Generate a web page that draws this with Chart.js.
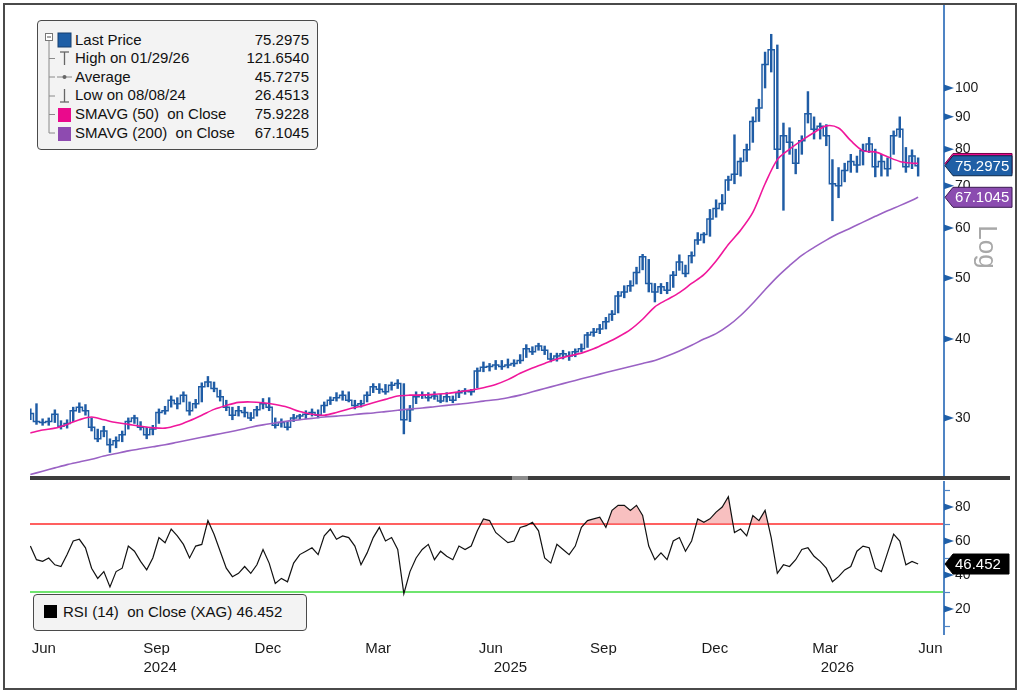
<!DOCTYPE html>
<html>
<head>
<meta charset="utf-8">
<script src="https://cdn.jsdelivr.net/npm/chart.js@4.4.1/dist/chart.umd.min.js"></script>
<style>
html,body{margin:0;padding:0;background:#fff;}
body{width:1020px;height:693px;position:relative;overflow:hidden;font-family:'Liberation Sans',Arial,sans-serif;color:#111;}
#frame{position:absolute;left:3px;top:3px;width:1010px;height:683px;border:2px solid #4a4a4a;}
#priceBox{position:absolute;left:0;top:0;width:1020px;height:477px;}
#rsiBox{position:absolute;left:0;top:478px;width:1020px;height:210px;}
#sep{position:absolute;left:30px;top:476px;width:980px;height:4px;background:#3d3d3d;}
#sepHandle{position:absolute;left:512px;top:476px;width:16px;height:4px;background:#8c8c8c;}
#legend{position:absolute;left:37px;top:20px;width:279px;height:128px;border:1.5px solid #4a4a4a;border-radius:4px;background:#f3f3f3;}
.lrow{position:absolute;left:37px;right:8px;height:18px;line-height:18px;font-size:15px;white-space:pre;}
.lrow .v{position:absolute;right:0;top:0;}
#rsiLegend{position:absolute;left:33px;top:594px;width:272px;height:35px;border:1.5px solid #4a4a4a;border-radius:4px;background:#f3f3f3;}
#rsiSq{position:absolute;left:10px;top:10px;width:13px;height:13px;background:#000;}
#rsiText{position:absolute;left:29px;top:8px;font-size:15px;line-height:18px;white-space:pre;}
#icons{position:absolute;left:0;top:0;}
#logLbl{position:absolute;left:966px;top:232px;width:44px;height:30px;line-height:30px;text-align:center;font-size:26px;color:#a8a8a8;transform:rotate(90deg);}
</style>
</head>
<body>
<div id="frame"></div>
<div id="priceBox"><canvas id="price"></canvas></div>
<div id="rsiBox"><canvas id="rsi"></canvas></div>
<div id="sep"></div><div id="sepHandle"></div>
<div id="legend"></div>
<svg id="icons" width="120" height="150" xmlns="http://www.w3.org/2000/svg">
  <rect x="45.5" y="33.5" width="7" height="7" fill="#fff" stroke="#777" stroke-width="1"/>
  <line x1="47" y1="37" x2="51" y2="37" stroke="#555" stroke-width="1"/>
  <line x1="49" y1="41" x2="49" y2="133" stroke="#8a8a8a" stroke-width="1"/>
  <line x1="49" y1="58.5" x2="55" y2="58.5" stroke="#8a8a8a" stroke-width="1"/>
  <line x1="49" y1="77" x2="55" y2="77" stroke="#8a8a8a" stroke-width="1"/>
  <line x1="49" y1="96" x2="55" y2="96" stroke="#8a8a8a" stroke-width="1"/>
  <line x1="49" y1="114.5" x2="55" y2="114.5" stroke="#8a8a8a" stroke-width="1"/>
  <line x1="49" y1="133" x2="55" y2="133" stroke="#8a8a8a" stroke-width="1"/>
  <rect x="58" y="33" width="13" height="14" fill="#1f5fa6" stroke="#163f6e" stroke-width="1"/>
  <line x1="64.5" y1="52" x2="64.5" y2="65" stroke="#666" stroke-width="1.3"/>
  <line x1="60" y1="52" x2="69" y2="52" stroke="#666" stroke-width="1.3"/>
  <line x1="57" y1="77" x2="72" y2="77" stroke="#888" stroke-width="1"/>
  <circle cx="64.5" cy="77" r="2" fill="#666"/>
  <line x1="64.5" y1="89" x2="64.5" y2="102" stroke="#666" stroke-width="1.3"/>
  <line x1="60" y1="102" x2="69" y2="102" stroke="#666" stroke-width="1.3"/>
  <rect x="58" y="108" width="13" height="14" fill="#ea0a8c"/>
  <rect x="58" y="127" width="13" height="14" fill="#8e4bb0"/>
</svg>
<div id="rsiLegend"><div id="rsiSq"></div><div id="rsiText"></div></div>
<div id="logLbl">Log</div>

<script>
// ---------------- DATA ----------------
// x positions are calendar days after 2024-06-01
const FIRST_DAY = 3;
const STEP_DAYS = 5;
const SMA_STEP = 10;
const X_MIN = 2.7, X_MAX = 748.3;

const closes = [
  30.5, 29.6, 29.5, 29.6, 30.4, 29.1, 29.4, 30.8, 31.2, 30.8,
  29.0, 27.8, 28.6, 27.2, 27.6, 28.2, 29.6, 30.0, 29.0, 28.2,
  28.8, 30.6, 30.8, 32.0, 31.6, 32.6, 30.8, 31.6, 33.6, 34.2,
  33.4, 32.4, 31.2, 30.3, 30.8, 30.6, 30.0, 30.9, 31.6, 31.2,
  29.2, 29.5, 29.0, 30.0, 30.2, 30.4, 30.6, 30.3, 31.4, 32.0,
  32.3, 32.6, 32.0, 31.4, 31.6, 32.6, 33.6, 33.3, 33.0, 33.8,
  34.0, 29.8, 30.9, 32.4, 32.6, 32.3, 32.5, 31.9, 32.4, 32.0,
  32.9, 33.1, 33.0, 35.6, 36.1, 36.2, 36.4, 36.2, 36.4, 36.6,
  37.0, 38.6, 38.2, 39.0, 38.4, 37.2, 37.6, 37.9, 37.6, 38.2,
  38.6, 40.6, 41.0, 41.5, 42.6, 43.8, 46.8, 47.5, 48.6, 51.0,
  54.0, 49.0, 47.5, 48.4, 47.8, 50.5, 53.0, 50.8, 54.2, 57.4,
  58.6, 62.0, 64.4, 65.6, 71.5, 73.0, 76.5, 79.8, 88.5, 93.0,
  109, 115, 80.0, 84.0, 82.0, 76.0, 82.5, 91.0, 86.0, 87.0,
  84.0, 70.5, 70.0, 74.0, 76.5, 75.5, 79.5, 81.5, 75.0, 76.5,
  74.5, 84.0, 86.0, 75.0, 78.0, 75.3
];
const highs = [
  31.0, 31.6, 29.9, 30.0, 30.9, 29.7, 29.8, 31.2, 31.7, 31.5,
  30.0, 28.8, 29.1, 27.8, 28.0, 28.6, 30.0, 30.3, 29.6, 29.0,
  29.2, 31.0, 31.3, 32.5, 32.3, 33.0, 31.8, 32.1, 34.1, 34.9,
  34.2, 33.2, 32.0, 31.2, 31.3, 31.2, 30.6, 31.3, 32.2, 32.3,
  30.0, 29.9, 29.6, 30.4, 30.4, 30.8, 31.0, 30.9, 31.8, 32.4,
  32.9, 33.1, 33.0, 32.0, 32.0, 33.0, 34.0, 34.0, 33.9, 34.2,
  34.5, 34.0, 31.4, 33.0, 33.0, 32.9, 33.0, 32.7, 32.9, 32.5,
  33.2, 33.4, 33.3, 36.0, 36.8, 36.6, 37.0, 37.0, 37.2, 37.1,
  37.8, 39.2, 38.9, 39.4, 39.0, 38.0, 38.0, 38.4, 38.2, 38.6,
  39.3, 41.0, 41.6, 42.2, 43.3, 44.4, 47.6, 48.6, 49.5, 52.0,
  54.5, 53.5, 49.0, 49.0, 49.2, 51.2, 54.4, 52.4, 55.0, 59.0,
  59.0, 64.2, 66.5, 67.8, 72.5, 84.3, 77.5, 81.5, 90.0, 96.0,
  114, 121.65, 117, 88.0, 86.5, 80.0, 84.0, 98.7, 90.0, 88.0,
  87.5, 77.0, 74.8, 76.0, 78.5, 78.0, 81.5, 83.5, 80.0, 78.5,
  77.5, 85.5, 90.0, 80.5, 79.8, 77.5
];
const lows = [
  29.8, 29.3, 29.2, 29.2, 29.5, 28.8, 28.9, 29.6, 30.6, 30.3,
  28.6, 27.5, 28.0, 26.45, 26.9, 27.5, 28.8, 29.4, 28.7, 27.8,
  28.2, 29.4, 30.4, 31.2, 31.0, 31.8, 30.3, 31.1, 31.8, 33.6,
  33.0, 31.9, 30.8, 29.8, 30.2, 30.1, 29.7, 30.2, 31.0, 30.8,
  28.9, 29.0, 28.7, 29.6, 29.8, 29.9, 30.2, 30.0, 30.6, 31.5,
  31.9, 32.0, 31.8, 31.0, 31.2, 31.8, 32.9, 32.8, 32.7, 33.2,
  33.4, 28.3, 29.6, 31.6, 32.2, 31.9, 32.1, 31.7, 31.8, 31.7,
  32.3, 32.7, 32.6, 33.5, 35.5, 35.6, 35.8, 35.8, 36.0, 36.2,
  36.6, 37.4, 37.8, 38.4, 37.8, 36.8, 36.9, 37.2, 37.0, 37.5,
  38.2, 38.8, 40.4, 40.8, 41.5, 42.8, 44.0, 46.5, 47.6, 48.9,
  51.5, 47.5, 45.8, 47.2, 47.2, 48.3, 51.4, 50.2, 52.8, 56.5,
  56.8, 58.2, 62.4, 64.0, 68.8, 70.5, 72.5, 76.5, 82.0, 88.5,
  100, 106, 74.5, 64.0, 78.5, 73.1, 78.5, 88.0, 83.0, 83.0,
  81.0, 61.6, 67.0, 71.0, 73.5, 73.5, 75.5, 79.0, 72.3, 72.5,
  72.5, 78.5, 83.5, 73.5, 74.5, 72.5
];
const sma50 = [
  28.4, 28.7, 28.9, 29.3, 29.8, 30.1, 29.8, 29.5, 29.3, 29.1,
  28.95, 28.9, 29.2, 29.7, 30.3, 30.95, 31.4, 31.75, 31.8, 31.7,
  31.5, 31.2, 30.7, 30.4, 30.3, 30.6, 31.0, 31.3, 31.7, 32.1,
  32.5, 32.6, 32.6, 32.7, 32.8, 33.0, 33.2, 33.5, 33.9, 34.5,
  35.3, 36.0, 36.6, 37.2, 37.6, 38.0, 38.6, 39.4, 40.3, 41.4,
  43.0, 45.0, 46.2, 47.4, 49.0, 50.6, 53.2, 56.5, 59.5, 63.5,
  70.5, 77.0, 80.0, 82.6, 85.0, 87.1, 86.4, 82.5, 79.5, 79.2,
  77.8, 76.5, 76.0, 75.92
];
const sma200 = [
  24.4, 24.7, 25.0, 25.3, 25.55, 25.8, 26.1, 26.35, 26.6, 26.8,
  27.0, 27.2, 27.45, 27.7, 27.95, 28.2, 28.45, 28.7, 29.0, 29.25,
  29.45, 29.65, 29.8, 29.95, 30.1, 30.2, 30.3, 30.45, 30.55, 30.7,
  30.85, 31.0, 31.1, 31.25, 31.4, 31.55, 31.7, 31.9, 32.05, 32.3,
  32.6, 33.0, 33.4, 33.8, 34.2, 34.6, 35.0, 35.4, 35.8, 36.2,
  36.6, 37.0, 37.6, 38.3, 39.1, 40.0, 40.8, 42.0, 43.6, 45.6,
  47.9, 50.2, 52.3, 54.3, 55.9, 57.4, 58.8, 60.0, 61.3, 62.6,
  63.9, 65.1, 66.4, 67.1
];
const rsi14 = [
  57, 49, 48, 50, 46, 45, 52, 60, 61, 56,
  44, 38, 42, 33, 42, 44, 57, 54, 48, 43,
  50, 62, 59, 67, 63, 58, 50, 57, 58, 72,
  64, 54, 44, 39, 41, 45, 41, 46, 55, 47,
  35, 38, 36, 47, 52, 54, 56, 52, 63, 67,
  61, 63, 62, 57, 46, 53, 62, 68, 60, 62,
  55, 29, 42, 50, 55, 58, 49, 54, 51, 49,
  57, 55, 57, 66, 73, 72, 65, 62, 59, 60,
  68, 69, 71, 66, 50, 47, 58, 55, 52, 57,
  68, 72, 73, 74, 68, 78, 81, 81, 78, 81,
  75, 57, 49, 53, 49, 60, 62, 54, 60, 73,
  71, 73, 77, 80, 86, 65, 67, 63, 75, 72,
  78, 62, 41, 46, 45, 49, 55, 56, 51, 48,
  44, 36, 39, 43, 45, 54, 57, 56, 44, 42,
  53, 64, 60, 46, 48, 46.452
];
const rsiBands = [70, 30];
const priceTicks = [30, 40, 50, 60, 70, 80, 90, 100];
const rsiTicks = [20, 40, 60, 80];
const rsiMinorTicks = [10, 30, 50, 70, 90];
const monthTickDays = [14, 106, 197, 287, 379, 471, 562, 652, 738];
const monthTickLabels = ['Jun', 'Sep', 'Dec', 'Mar', 'Jun', 'Sep', 'Dec', 'Mar', 'Jun'];
const yearTickDays = [109, 395, 662];
const yearTickLabels = ['2024', '2025', '2026'];
const legendLabels = ['Last Price', 'High on 01/29/26', 'Average', 'Low on 08/08/24', 'SMAVG (50)  on Close', 'SMAVG (200)  on Close'];
const legendValues = ['75.2975', '121.6540', '45.7275', '26.4513', '75.9228', '67.1045'];
const rsiLabel = 'RSI (14)  on Close (XAG)';
const rsiLastText = '46.452';

// ---------------- STYLE ----------------
const FONT = "'Liberation Sans', Arial, sans-serif";
const BLUE = '#1f5ca5';
const PINK = '#f0179b';
const PURPLE = '#9a62c4';
const AXIS = '#4f84c4';
const TRI = '#1f5fa8';
Chart.defaults.font.family = FONT;
Chart.defaults.color = '#1a1a1a';

// legend
const leg = document.getElementById('legend');
legendLabels.forEach((t, i) => {
  const r = document.createElement('div');
  r.className = 'lrow';
  r.style.top = (9.5 + 18.6 * i) + 'px';
  r.textContent = t;
  const v = document.createElement('span');
  v.className = 'v';
  v.textContent = legendValues[i];
  r.appendChild(v);
  leg.appendChild(r);
});
document.getElementById('rsiText').textContent = rsiLabel + ' ' + rsiLastText;

// points
const priceDays = closes.map((_, i) => FIRST_DAY + i * STEP_DAYS);
const lastDay = priceDays[priceDays.length - 1];
const smaDays = sma50.map((_, k) => Math.min(FIRST_DAY + k * SMA_STEP, lastDay));

function tag(ctx, x, yc, w, h, fill, stroke, text) {
  ctx.beginPath();
  ctx.moveTo(x, yc);
  ctx.lineTo(x + 8, yc - h / 2);
  ctx.lineTo(x + w, yc - h / 2);
  ctx.lineTo(x + w, yc + h / 2);
  ctx.lineTo(x + 8, yc + h / 2);
  ctx.closePath();
  ctx.fillStyle = fill;
  ctx.fill();
  ctx.lineWidth = 1;
  ctx.strokeStyle = stroke;
  ctx.stroke();
  ctx.fillStyle = '#fff';
  ctx.font = '15px ' + FONT;
  ctx.textAlign = 'left';
  ctx.textBaseline = 'middle';
  ctx.fillText(text, x + 10, yc + 1);
}
function tri(ctx, x, y) {
  ctx.beginPath();
  ctx.moveTo(x, y - 3.5);
  ctx.lineTo(x + 10, y);
  ctx.lineTo(x, y + 3.5);
  ctx.closePath();
  ctx.fillStyle = TRI;
  ctx.fill();
}

const priceDeco = {
  id: 'priceDeco',
  afterDraw(chart) {
    const { ctx, chartArea, scales } = chart;
    const y = scales.y;
    const r = chartArea.right;
    ctx.save();
    ctx.strokeStyle = AXIS;
    ctx.lineWidth = 2;
    ctx.beginPath();
    ctx.moveTo(r + 1, 5);
    ctx.lineTo(r + 1, chartArea.bottom);
    ctx.stroke();
    priceTicks.forEach(v => tri(ctx, r + 1, y.getPixelForValue(v)));
    tag(ctx, r + 2, y.getPixelForValue(parseFloat(legendValues[4])), 67, 20, '#ea0a8c', '#7a0048', legendValues[4]);
    tag(ctx, r + 2, y.getPixelForValue(parseFloat(legendValues[5])), 67, 20, '#8b4cb0', '#3a1a50', legendValues[5]);
    tag(ctx, r + 2, y.getPixelForValue(parseFloat(legendValues[0])), 67, 20, '#1f5fa6', '#0c2848', legendValues[0]);
    ctx.restore();
  }
};

const rsiDeco = {
  id: 'rsiDeco',
  afterDraw(chart) {
    const { ctx, chartArea, scales } = chart;
    const y = scales.y;
    const r = chartArea.right;
    ctx.save();
    ctx.strokeStyle = AXIS;
    ctx.lineWidth = 2;
    ctx.beginPath();
    ctx.moveTo(r + 1, chartArea.top - 1);
    ctx.lineTo(r + 1, chartArea.bottom);
    ctx.stroke();
    ctx.lineWidth = 1.2;
    rsiMinorTicks.forEach(v => {
      const py = Math.round(y.getPixelForValue(v)) + 0.5;
      ctx.beginPath();
      ctx.moveTo(r + 1, py);
      ctx.lineTo(r + 7, py);
      ctx.stroke();
    });
    rsiTicks.forEach(v => tri(ctx, r + 1, y.getPixelForValue(v)));
    tag(ctx, r + 2, y.getPixelForValue(rsi14[rsi14.length - 1]), 64, 20, '#000', '#000', rsiLastText);
    ctx.restore();
  }
};

const common = {
  responsive: true,
  maintainAspectRatio: false,
  animation: false,
  devicePixelRatio: 1,
  events: [],
  plugins: { legend: { display: false }, tooltip: { enabled: false } }
};
const fitY = s => { s.width = 77; s.paddingTop = 0; s.paddingBottom = 0; };
const fitX = h => s => { s.height = h; s.paddingLeft = 0; s.paddingRight = 0; };

new Chart(document.getElementById('price'), {
  type: 'line',
  data: {
    datasets: [
      { label: 'SMAVG (200)', data: sma200.map((v, k) => ({ x: smaDays[k], y: v })), borderColor: PURPLE, borderWidth: 1.6, pointRadius: 0, tension: 0.3, order: 0 },
      { label: 'SMAVG (50)', data: sma50.map((v, k) => ({ x: smaDays[k], y: v })), borderColor: PINK, borderWidth: 1.6, pointRadius: 0, tension: 0.3, order: 0 },
      { type: 'bar', label: 'High-Low', data: highs.map((h, i) => ({ x: priceDays[i], y: [lows[i], h] })), backgroundColor: BLUE, borderWidth: 0, barThickness: 1.8, order: 2 },
      { label: 'Last Price', data: closes.map((c, i) => ({ x: priceDays[i], y: c })), borderColor: BLUE, borderWidth: 1.5, pointRadius: 0, tension: 0, stepped: 'middle', order: 1 }
    ]
  },
  options: Object.assign({}, common, {
    layout: { padding: { left: 30, top: 18, right: 0, bottom: 1 } },
    scales: {
      x: { type: 'linear', min: X_MIN, max: X_MAX, display: false, offset: false, bounds: 'data' },
      y: {
        type: 'logarithmic', position: 'right', min: 24.27, max: 129.1, bounds: 'data',
        grid: { display: false, drawTicks: false }, border: { display: false },
        afterBuildTicks: s => { s.ticks = priceTicks.map(v => ({ value: v })); },
        afterFit: fitY,
        ticks: { padding: 12, color: '#1a1a1a', font: { size: 14 }, callback: v => String(v) }
      }
    }
  }),
  plugins: [priceDeco]
});

new Chart(document.getElementById('rsi'), {
  type: 'line',
  data: {
    datasets: [
      { label: 'RSI (14)', data: rsi14.map((v, i) => ({ x: priceDays[i], y: v })), borderColor: '#111', borderWidth: 1.2, pointRadius: 0, tension: 0,
        fill: { target: { value: rsiBands[0] }, above: 'rgba(242,140,140,0.55)', below: 'rgba(0,0,0,0)' }, order: 0 },
      { label: 'Upper', data: [{ x: X_MIN, y: rsiBands[0] }, { x: X_MAX, y: rsiBands[0] }], borderColor: '#ff2b2b', borderWidth: 1.6, pointRadius: 0, order: 1 },
      { label: 'Lower', data: [{ x: X_MIN, y: rsiBands[1] }, { x: X_MAX, y: rsiBands[1] }], borderColor: '#3fdc3f', borderWidth: 1.6, pointRadius: 0, order: 1 }
    ]
  },
  options: Object.assign({}, common, {
    layout: { padding: { left: 30, top: 4, right: 0, bottom: 11 } },
    scales: {
      x: {
        type: 'linear', min: X_MIN, max: X_MAX, position: 'bottom', weight: 0, offset: false, bounds: 'data',
        grid: { display: false, drawTicks: false }, border: { display: false },
        afterBuildTicks: s => { s.ticks = monthTickDays.map(v => ({ value: v })); },
        afterFit: fitX(20),
        ticks: { autoSkip: false, maxRotation: 0, padding: 5, color: '#1a1a1a', font: { size: 15 }, callback: (v, i) => monthTickLabels[i] }
      },
      x2: {
        type: 'linear', min: X_MIN, max: X_MAX, position: 'bottom', weight: 1, offset: false, bounds: 'data',
        grid: { display: false, drawTicks: false }, border: { display: false },
        afterBuildTicks: s => { s.ticks = yearTickDays.map(v => ({ value: v })); },
        afterFit: fitX(22),
        ticks: { autoSkip: false, maxRotation: 0, padding: 4, color: '#1a1a1a', font: { size: 15 }, callback: (v, i) => yearTickLabels[i] }
      },
      y: {
        type: 'linear', position: 'right', min: 4.7, max: 94.7, bounds: 'data',
        grid: { display: false, drawTicks: false }, border: { display: false },
        afterBuildTicks: s => { s.ticks = rsiTicks.map(v => ({ value: v })); },
        afterFit: fitY,
        ticks: { padding: 12, color: '#1a1a1a', font: { size: 14 }, callback: v => String(v) }
      }
    }
  }),
  plugins: [rsiDeco]
});
</script>
</body>
</html>
